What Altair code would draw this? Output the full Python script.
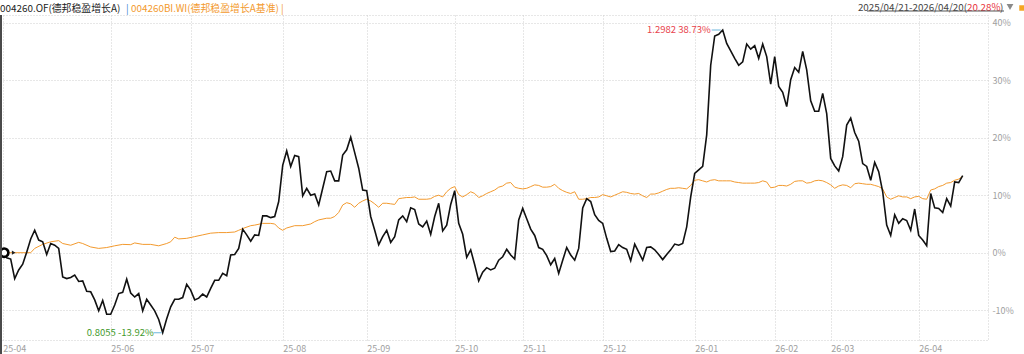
import altair as alt
import pandas as pd

# ---------------- data ----------------
fund_val = [
    0, -0.9, -1.1, -4.5, -3.0, -2.0, 0.1, 2.4, 3.9, 2.2,
    1.9, -0.3, 1.6, 1.3, 0.75, -4.2, -4.5, -4.3, -3.9, -5.0,
    -4.9, -6.7, -6.8, -8.2, -10.1, -8.3, -10.7, -10.7, -9.1, -7.1,
    -6.9, -4.6, -7.0, -7.7, -7.1, -10.1, -8.1, -9.1, -10.1, -11.6,
    -13.92, -11.5, -9.4, -8.1, -8.1, -7.8, -5.5, -6.5, -8.2, -7.9,
    -7.2, -7.7, -6.2, -4.8, -4.8, -3.6, -4.0, -0.4, -0.3, 0.75,
    4.1, 3.1, 2.0, 3.1, 3.0, 6.4, 6.4, 6.1, 6.3, 8.9,
    15.2, 17.7, 15.0, 16.9, 16.7, 9.9, 11.2, 10.0, 10.2, 8.3,
    11.2, 14.1, 14.2, 12.5, 12.5, 17.0, 17.9, 20.1, 17.4, 14.7,
    10.9, 10.8, 6.3, 3.9, 1.4, 2.8, 3.9, 1.8, 2.8, 5.7,
    6.4, 5.4, 7.8, 7.5, 5.0, 4.5, 5.5, 3.2, 6.3, 8.6,
    3.8, 4.8, 8.4, 10.8, 5.1, 3.2, -0.8, 0.5, -2.1, -4.9,
    -3.4, -2.6, -3.0, -2.7, -1.3, -0.7, 0.6, -0.4, -1.1, 5.7,
    7.7, 5.9, 4.1, 3.0, 0.9, 0.6, -0.5, -2.1, -1.0, -3.6,
    -1.3, 0.9, -0.4, -1.3, 0.75, 7.8, 9.4, 8.9, 6.6, 5.6,
    5.1, 2.5, 0.2, 0.3, 1.4, 0.9, 0.6, -1.4, 1.5, 0.1,
    -1.3, 0.9, 1.0, 0.5, -0.3, -1.2, -0.3, 0.5, 1.5, 1.3,
    1.6, 4.5, 9.7, 13.8, 14.4, 15.0, 20.5, 32.6, 37.7, 38.0,
    38.73, 36.4, 35.1, 33.8, 32.6, 33.2, 36.3, 35.4, 36.0, 33.8,
    36.3, 34.1, 29.3, 34.1, 28.9, 27.9, 25.4, 30.1, 32.2, 31.4,
    35.0, 31.8, 26.4, 24.6, 24.6, 27.7, 24.2, 16.4, 15.1, 14.2,
    16.7, 22.2, 23.4, 20.9, 19.4, 15.5, 15.0, 12.6, 15.7, 14.1,
    10.6, 4.8, 3.0, 6.6, 5.1, 5.9, 5.6, 3.9, 7.6, 3.0,
    2.2, 1.2, 10.3, 7.8, 7.7, 7.0, 9.4, 8.1, 12.3, 12.2,
    13.4,
]
fund_idx = list(range(len(fund_val)))

bench_idx = [
    0, 7, 8, 10, 12, 14, 15, 17, 19, 20, 22, 24, 26, 28, 30, 32, 33, 35, 37, 39,
    41, 42, 43, 44, 46, 48, 50, 52, 54, 56, 58, 59, 60, 62, 63, 65, 67, 68, 69, 70,
    71, 73, 75, 77, 78, 79, 81, 82, 83, 84, 85, 86, 87, 88, 89, 90, 91, 92, 93, 94,
    95, 96, 97, 98, 99, 100, 101, 102, 103, 104, 106, 107, 108, 109, 110, 111, 112, 113, 114, 115,
    116, 117, 118, 119, 120, 121, 122, 123, 124, 125, 126, 127, 128, 129, 130, 131, 132, 133, 134, 135,
    136, 137, 138, 139, 140, 141, 142, 143, 144, 145, 146, 147, 148, 149, 150, 151, 152, 153, 154, 155,
    156, 157, 158, 159, 160, 161, 162, 163, 164, 165, 166, 167, 168, 169, 170, 171, 172, 173, 174, 175,
    176, 177, 178, 179, 180, 181, 182, 183, 184, 185, 186, 187, 188, 189, 190, 191, 192, 193, 194, 195,
    196, 197, 198, 199, 200, 201, 202, 203, 204, 205, 206, 207, 208, 209, 210, 211, 212, 213, 214, 215,
    216, 217, 218, 219, 220, 221, 222, 223, 224, 225, 226, 227, 228, 229, 230, 231, 232, 233, 234, 235,
    236, 237, 238, 239, 240,
]
bench_val = [
    0, 0, 0.75, 1.45, 1.9, 2.1, 1.6, 1.3, 1.8, 1.6, 1.0, 0.75, 0.9, 1.2, 1.45, 1.4, 1.7, 1.45, 1.45, 1.2,
    1.6, 1.9, 2.7, 2.4, 2.5, 2.8, 3.1, 3.4, 3.5, 3.5, 3.6, 3.9, 4.2, 4.7, 4.8, 5.1, 5.1, 5.0, 4.3, 3.9,
    4.3, 4.7, 4.7, 5.0, 5.4, 5.7, 6.0, 6.0, 6.3, 7.0, 8.3, 8.7, 8.5, 7.9, 8.6, 9.0, 9.3, 9.0, 8.5, 7.9,
    8.6, 8.6, 8.5, 8.4, 9.4, 9.5, 9.6, 9.6, 9.7, 9.3, 9.3, 9.4, 9.8, 10.0, 9.7, 10.6, 11.2, 11.5, 10.1, 9.7,
    10.1, 10.6, 10.3, 9.6, 9.9, 10.3, 10.6, 10.9, 11.4, 11.6, 12.1, 12.2, 11.4, 11.2, 11.1, 11.2, 11.5, 11.8, 11.7, 11.4,
    11.4, 11.5, 11.9, 11.2, 10.8, 10.5, 10.3, 10.6, 9.3, 9.3, 9.4, 9.6, 9.6, 9.7, 10.1, 9.9, 9.7, 10.0, 10.3, 10.6,
    10.5, 10.3, 10.2, 10.3, 9.9, 9.6, 10.2, 10.2, 10.4, 10.7, 11.0, 11.2, 11.2, 11.3, 11.2, 11.1, 11.7, 12.6, 12.7, 12.5,
    12.3, 12.6, 12.7, 12.5, 12.5, 12.5, 12.5, 12.3, 12.2, 12.1, 12.1, 12.1, 12.1, 12.2, 12.5, 12.3, 11.3, 11.4, 11.7, 11.7,
    11.6, 11.9, 12.4, 12.5, 12.5, 12.1, 12.2, 12.5, 12.6, 12.5, 12.2, 11.8, 11.2, 11.6, 11.8, 11.7, 11.3, 12.0, 12.1, 12.0,
    11.9, 11.9, 11.7, 11.5, 11.1, 9.7, 9.3, 9.6, 9.9, 9.7, 9.7, 9.4, 9.7, 9.8, 9.4, 9.3, 10.9, 11.1, 11.5, 11.7,
    12.1, 12.2, 12.6, 12.8, 13.3,
]

tick_idx = [0, 27, 47, 70, 91, 113, 130, 150, 173, 193, 207, 229]
tick_lbl = ["25-04", "25-06", "25-07", "25-08", "25-09", "25-10",
            "25-11", "25-12", "26-01", "26-02", "26-03", "26-04"]
y_ticks = [-10, 0, 10, 20, 30, 40]

fund_name = "004260.OF(德邦稳盈增长A)"
bench_name = "004260BI.WI(德邦稳盈增长A基准)"
period_text = "2025/04/21-2026/04/20("
period_ret = "20.28%"
peak_label = "1.2982 38.73%"
trough_label = "0.8055 -13.92%"

# ---------------- styling ----------------
FONT = "Noto Sans CJK SC"
ORANGE = "#f39a2e"
BLACK = "#111111"
GRID = "#cfcfcf"

fund_df = pd.DataFrame({"i": fund_idx, "v": fund_val})
bench_df = pd.DataFrame({"i": bench_idx, "v": bench_val})

pk = max(range(len(fund_val)), key=lambda k: fund_val[k])
tr = min(range(len(fund_val)), key=lambda k: fund_val[k])
peak_df = pd.DataFrame({"i": [fund_idx[pk]], "v": [fund_val[pk]], "t": [peak_label]})
trough_df = pd.DataFrame({"i": [fund_idx[tr]], "v": [fund_val[tr]], "t": [trough_label]})
start_df = pd.DataFrame({"i": [fund_idx[0]], "v": [fund_val[0]]})

label_expr = "[{}][indexof([{}], datum.value)]".format(
    ",".join("'%s'" % s for s in tick_lbl), ",".join(str(t) for t in tick_idx))

xscale = alt.Scale(domain=[-0.675, 246.325], nice=False, zero=False)
yscale = alt.Scale(domain=[-15.18, 41.34], nice=False, zero=False)

x_axis = alt.Axis(values=tick_idx, labelExpr=label_expr, labelAlign="left",
                  labelPadding=4, labelFontSize=9, labelColor="#a0a0a0", labelFont=FONT,
                  ticks=False, domain=False, grid=True, gridColor=GRID,
                  gridDash=[1, 2], title=None, labelOverlap=False, labelFlush=False)
y_axis = alt.Axis(values=y_ticks, orient="right", labelExpr="datum.value + '%'",
                  labelPadding=4, labelFontSize=9, labelColor="#a0a0a0", labelFont=FONT,
                  ticks=False, domain=False, grid=True, gridColor=GRID,
                  gridDash=[1, 2], title=None, labelFlush=False)

X = alt.X("i:Q", scale=xscale, axis=x_axis)
Y = alt.Y("v:Q", scale=yscale, axis=y_axis)

bench_line = alt.Chart(bench_df).mark_line(color=ORANGE, strokeWidth=1).encode(x=X, y=Y)
fund_line = alt.Chart(fund_df).mark_line(color=BLACK, strokeWidth=1.6).encode(x=X, y=Y)

start_circle = alt.Chart(start_df).mark_point(
    shape="circle", filled=True, fill="white", stroke="black", strokeWidth=2.6,
    size=70, xOffset=1.5, opacity=1).encode(x=X, y=Y)
start_tri = alt.Chart(start_df).mark_point(
    shape="triangle-right", filled=True, color="#222", size=18, xOffset=11,
    opacity=1).encode(x=X, y=Y)

peak_txt = alt.Chart(peak_df).mark_text(
    align="right", baseline="middle", dx=-12, font=FONT, fontSize=9.5,
    color="#e8434c").encode(x=X, y=Y, text="t:N")
peak_arrow = alt.Chart(peak_df).mark_rule(
    color="#6cb6dc", strokeWidth=1, xOffset=-11, x2Offset=-2).encode(
    x=X, x2="i:Q", y=Y)
trough_txt = alt.Chart(trough_df).mark_text(
    align="right", baseline="middle", dx=-9, font=FONT, fontSize=9.5,
    color="#3f9a2c").encode(x=X, y=Y, text="t:N")
trough_arrow = alt.Chart(trough_df).mark_rule(
    color="#6cb6dc", strokeWidth=1, xOffset=-9, x2Offset=-1).encode(
    x=X, x2="i:Q", y=Y)

one = pd.DataFrame({"t": ["x"]})

def header(text, x, color, align="left", size=9.9, y=-6.5):
    return alt.Chart(pd.DataFrame({"t": [text]})).mark_text(
        align=align, baseline="middle", font=FONT, fontSize=size, color=color
    ).encode(x=alt.value(x), y=alt.value(y), text="t:N")

h1 = header(fund_name, 0, "#222222")
h2 = header("|", 126, "#3d86d1")
h3 = header(bench_name, 131, ORANGE)
h4 = header("|", 281, ORANGE)
h5 = header(period_text, 967, "#444444", align="right", size=9.8, y=-7.5)
h6 = header(period_ret, 967, "#e8333c", size=9.8, y=-7.5)
h7 = header(")", 1000, "#444444", size=9.8, y=-7.5)
underline = alt.Chart(one).mark_rule(color="#555555", strokeWidth=1).encode(
    x=alt.value(867), x2=alt.value(1004), y=alt.value(-4))
tri = alt.Chart(one).mark_point(shape="triangle-down", filled=True, color="#8a8a8a",
                                size=45, opacity=1).encode(
    x=alt.value(1010), y=alt.value(-8))
sq = alt.Chart(one).mark_square(color="#f5a623", size=30, opacity=1).encode(
    x=alt.value(1022), y=alt.value(-7))
left_border = alt.Chart(one).mark_rule(color="#4a4a4a", strokeWidth=2).encode(
    x=alt.value(1), y=alt.value(0), y2=alt.value(339))

chart = alt.layer(
    bench_line, fund_line, start_circle, start_tri,
    peak_arrow, peak_txt, trough_arrow, trough_txt,
    h1, h2, h3, h4, h5, h6, h7, underline, tri, sq, left_border,
).properties(
    width=988, height=325,
    autosize=alt.AutoSizeParams(type="none"),
    padding={"left": 0, "top": 15, "right": 36, "bottom": 14},
    background="white",
).configure_view(stroke=GRID, strokeDash=[1, 2])

chart.save("out.html", embed_options={"renderer": "svg", "actions": False})
